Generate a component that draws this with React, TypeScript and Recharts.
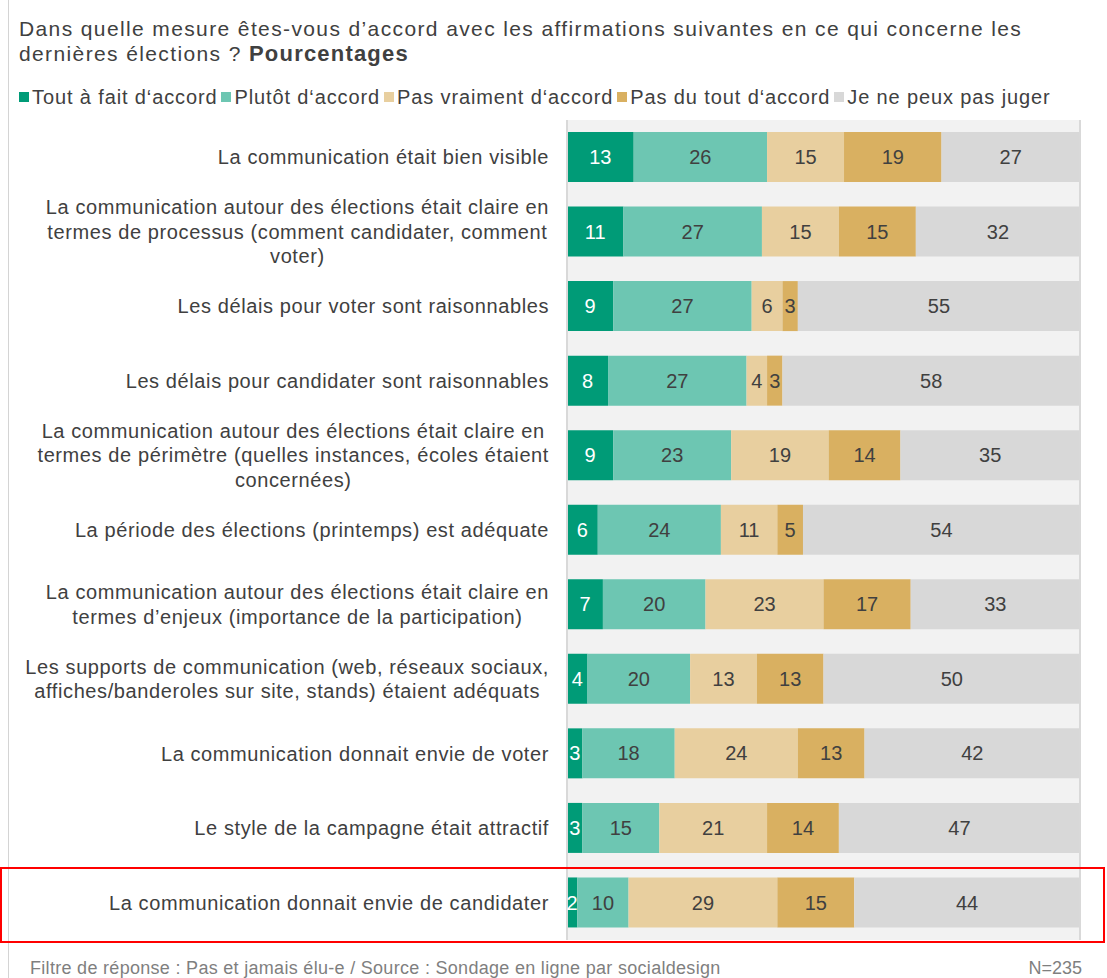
import React from "react";
import { BarChart, Bar, XAxis, YAxis, CartesianGrid, LabelList } from "recharts";

const FONT = "'Liberation Sans', Arial, sans-serif";
const TEXT = "#404040";

const categories: string[][] = [
  ["La communication était bien visible"],
  ["La communication autour des élections était claire en", "termes de processus (comment candidater, comment", "voter)"],
  ["Les délais pour voter sont raisonnables"],
  ["Les délais pour candidater sont raisonnables"],
  ["La communication autour des élections était claire en", "termes de périmètre (quelles instances, écoles étaient", "concernées)"],
  ["La période des élections (printemps) est adéquate "],
  ["La communication autour des élections était claire en", "termes d’enjeux (importance de la participation)"],
  ["Les supports de communication (web, réseaux sociaux,", "affiches/banderoles sur site, stands) étaient adéquats"],
  ["La communication donnait envie de voter"],
  ["Le style de la campagne était attractif"],
  ["La communication donnait envie de candidater"],
];

const toutAFait = [13, 11, 9, 8, 9, 6, 7, 4, 3, 3, 2];
const plutot = [26, 27, 27, 27, 23, 24, 20, 20, 18, 15, 10];
const pasVraiment = [15, 15, 6, 4, 19, 11, 23, 13, 24, 21, 29];
const pasDuTout = [19, 15, 3, 3, 14, 5, 17, 13, 13, 14, 15];
const nePeux = [27, 32, 55, 58, 35, 54, 33, 50, 42, 47, 44];

const seriesNames = [
  "Tout à fait d‘accord",
  "Plutôt d‘accord",
  "Pas vraiment d‘accord",
  "Pas du tout d‘accord",
  "Je ne peux pas juger",
];
const seriesKeys = ["a", "b", "c", "d", "e"];
const seriesValues = [toutAFait, plutot, pasVraiment, pasDuTout, nePeux];
const seriesColors = ["#009b77", "#6dc6b2", "#e8cf9f", "#d9b061", "#d8d8d8"];
const labelColors = ["#ffffff", TEXT, TEXT, TEXT, TEXT];

const data = categories.map((lines, i) => {
  const row: Record<string, any> = { cat: lines.join("|") };
  seriesKeys.forEach((k, s) => {
    row[k] = seriesValues[s][i];
  });
  return row;
});

const LABEL_SIZE = 20;
const LETTER = 0.6;

let ctx: CanvasRenderingContext2D | null = null;
function measure(t: string): number {
  if (!ctx) {
    const c = document.createElement("canvas");
    ctx = c.getContext("2d");
  }
  if (!ctx) return t.length * 10;
  ctx.font = `${LABEL_SIZE}px 'Liberation Sans', Arial, sans-serif`;
  return ctx.measureText(t).width + t.length * LETTER;
}

const CategoryTick = (props: any) => {
  const { x, y, payload } = props;
  const lines: string[] = String(payload.value).split("|");
  const maxW = Math.max(...lines.map(measure));
  const cx = x - maxW / 2;
  const lh = 24.5;
  const startY = y - ((lines.length - 1) * lh) / 2;
  return (
    <text
      fontFamily={FONT}
      fontSize={LABEL_SIZE}
      fill={TEXT}
      letterSpacing={LETTER}
      textAnchor={lines.length > 1 ? "middle" : "end"}
    >
      {lines.map((l, i) => (
        <tspan key={i} x={lines.length > 1 ? cx : x} y={startY + i * lh} dy="0.35em">
          {l}
        </tspan>
      ))}
    </text>
  );
};

const border = { stroke: "#d9d9d9", strokeWidth: 2 };

export default function App() {
  return (
    <div
      style={{
        position: "relative",
        width: 1107,
        height: 978,
        fontFamily: FONT,
        color: TEXT,
        background: "#ffffff",
      }}
    >
      <style>{`html { overflow: hidden; } body { margin: 0; }`}</style>
      <div
        style={{ position: "absolute", left: 8, top: 0, width: 1, height: 978, background: "#d4d4d4" }}
      />
      <div
        style={{
          position: "absolute",
          left: 19,
          top: 16,
          fontSize: 21,
          lineHeight: "25px",
          letterSpacing: 1.38,
          whiteSpace: "nowrap",
        }}
      >
        Dans quelle mesure êtes-vous d’accord avec les affirmations suivantes en ce qui concerne les
        <br />
        dernières élections ? <b style={{ fontSize: 22, letterSpacing: 1.2 }}>Pourcentages</b>
      </div>
      <div
        style={{
          position: "absolute",
          left: 19,
          top: 85,
          fontSize: 20,
          lineHeight: "24px",
          whiteSpace: "nowrap",
          display: "flex",
          alignItems: "center",
        }}
      >
        {seriesNames.map((n, i) => (
          <span key={n} style={{ display: "inline-flex", alignItems: "center", marginRight: 4 }}>
            <span
              style={{
                display: "inline-block",
                width: 10,
                height: 10,
                background: seriesColors[i],
                marginRight: 3,
              }}
            />
            <span style={{ letterSpacing: 0.88 }}>{n}</span>
          </span>
        ))}
      </div>
      <div style={{ position: "absolute", left: 8, top: 8 }}>
        <BarChart
          width={1099}
          height={970}
          data={data}
          layout="vertical"
          margin={{ top: 112, right: 26, bottom: 38, left: 0 }}
        >
          <CartesianGrid fill="#f2f2f2" horizontal={false} vertical={false} />
          <XAxis type="number" domain={[0, 100]} tick={false} tickLine={false} axisLine={border} height={0} />
          <XAxis
            xAxisId="top"
            orientation="top"
            type="number"
            domain={[0, 100]}
            tick={false}
            tickLine={false}
            axisLine={border}
            height={0}
          />
          <YAxis
            type="category"
            dataKey="cat"
            width={559}
            tickLine={false}
            tickSize={0}
            tickMargin={18}
            axisLine={border}
            tick={<CategoryTick />}
            interval={0}
          />
          <YAxis
            yAxisId="r"
            orientation="right"
            type="category"
            dataKey="cat"
            width={1}
            tick={false}
            tickLine={false}
            axisLine={border}
          />
          {seriesKeys.map((k, i) => (
            <Bar
              key={k}
              dataKey={k}
              name={seriesNames[i]}
              stackId="s"
              fill={seriesColors[i]}
              barSize={50}
              isAnimationActive={false}
            >
              <LabelList
                dataKey={k}
                position="center"
                fill={labelColors[i]}
                fontSize={LABEL_SIZE}
                fontFamily={FONT}
              />
            </Bar>
          ))}
        </BarChart>
      </div>
      <div
        style={{
          position: "absolute",
          left: 0,
          top: 867,
          width: 1105,
          height: 76,
          border: "2px solid #ff0000",
          boxSizing: "border-box",
          pointerEvents: "none",
        }}
      />
      <div
        style={{
          position: "absolute",
          left: 30,
          top: 958,
          fontSize: 18,
          lineHeight: "20px",
          letterSpacing: 0.3,
          color: "#7f7f7f",
          whiteSpace: "nowrap",
        }}
      >
        Filtre de réponse : Pas et jamais élu-e / Source : Sondage en ligne par socialdesign
      </div>
      <div
        style={{
          position: "absolute",
          right: 25,
          top: 958,
          fontSize: 18,
          lineHeight: "20px",
          color: "#7f7f7f",
          whiteSpace: "nowrap",
        }}
      >
        N=235
      </div>
    </div>
  );
}
